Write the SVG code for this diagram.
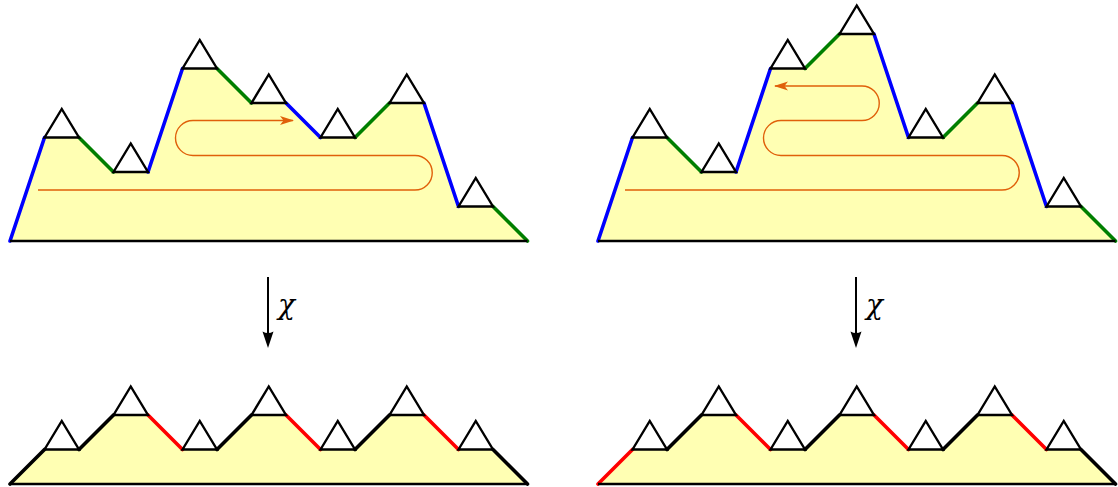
<svg xmlns="http://www.w3.org/2000/svg" width="1118" height="487" viewBox="0 0 1118 487">
<style>
.fill{fill:#ffffb3;stroke:none}
.e{stroke-width:3.6;stroke-linecap:round;fill:none}
.b{stroke:#0000ff}
.g{stroke:#007f00}
.r{stroke:#ff0000}
.k{stroke:#000}
.base{stroke:#000;stroke-width:2.6;fill:none}
.tri{fill:#fff;stroke:#000;stroke-width:2.4;stroke-linejoin:miter}
.or{fill:none;stroke:#e0600a;stroke-width:1.4}
.arr{stroke:#000;stroke-width:2}
.lbl{font-family:"DejaVu Serif","Liberation Serif",serif;font-style:italic;font-size:28px;fill:#000}
</style>
<defs>
<path id="t" d="M0,0 L17.25,-28.5 L34.5,0 Z"/>
<marker id="oh" viewBox="0 0 14 10" refX="13" refY="5" markerWidth="14" markerHeight="10" markerUnits="userSpaceOnUse" orient="auto">
<path d="M0,0.5 L14,5 L0,9.5 L3.5,5 Z" fill="#e0600a"/>
</marker>
</defs>

<g id="top-left">
<polygon class="fill" points="10,241 44.5,137.5 79,137.5 113.5,172 148,172 182.5,68.5 217,68.5 251.5,103 286,103 320.5,137.5 355,137.5 389.5,103 424,103 458.5,206.5 493,206.5 527.5,241"/>
<path class="e b" d="M10,241 L44.5,137.5 M148,172 L182.5,68.5 M286,103 L320.5,137.5 M424,103 L458.5,206.5"/>
<path class="e g" d="M79,137.5 L113.5,172 M217,68.5 L251.5,103 M355,137.5 L389.5,103 M493,206.5 L527.5,241"/>
<use href="#t" class="tri" x="44.5" y="137.5"/>
<use href="#t" class="tri" x="113.5" y="172"/>
<use href="#t" class="tri" x="182.5" y="68.5"/>
<use href="#t" class="tri" x="251.5" y="103"/>
<use href="#t" class="tri" x="320.5" y="137.5"/>
<use href="#t" class="tri" x="389.5" y="103"/>
<use href="#t" class="tri" x="458.5" y="206.5"/>
<line class="base" x1="10" y1="241" x2="527.5" y2="241"/>
<path class="or" marker-end="url(#oh)" d="M38,190 H415 A17.25,17.25 0 0 0 415,155.5 H193 A17.5,17.5 0 0 1 193,120.5 H293"/>
</g>

<g id="top-right">
<polygon class="fill" points="598,241 632.5,137.5 667,137.5 701.5,172 736,172 770.5,68.5 805,68.5 839.5,34 874,34 908.5,137.5 943,137.5 977.5,103 1012,103 1046.5,206.5 1081,206.5 1115.5,241"/>
<path class="e b" d="M598,241 L632.5,137.5 M736,172 L770.5,68.5 M874,34 L908.5,137.5 M1012,103 L1046.5,206.5"/>
<path class="e g" d="M667,137.5 L701.5,172 M805,68.5 L839.5,34 M943,137.5 L977.5,103 M1081,206.5 L1115.5,241"/>
<use href="#t" class="tri" x="632.5" y="137.5"/>
<use href="#t" class="tri" x="701.5" y="172"/>
<use href="#t" class="tri" x="770.5" y="68.5"/>
<use href="#t" class="tri" x="839.5" y="34"/>
<use href="#t" class="tri" x="908.5" y="137.5"/>
<use href="#t" class="tri" x="977.5" y="103"/>
<use href="#t" class="tri" x="1046.5" y="206.5"/>
<line class="base" x1="598" y1="241" x2="1115.5" y2="241"/>
<path class="or" marker-end="url(#oh)" d="M625,190 H1002 A17.25,17.25 0 0 0 1002,155.5 H781 A17.5,17.5 0 0 1 781,120.5 H862 A17.25,17.25 0 0 0 862,86 H775"/>
</g>

<g id="bottom-left">
<polygon class="fill" points="10,484 44.5,449.5 79,449.5 113.5,415 148,415 182.5,449.5 217,449.5 251.5,415 286,415 320.5,449.5 355,449.5 389.5,415 424,415 458.5,449.5 493,449.5 527.5,484"/>
<path class="e k" d="M10,484 L44.5,449.5 M79,449.5 L113.5,415 M217,449.5 L251.5,415 M355,449.5 L389.5,415 M493,449.5 L527.5,484"/>
<path class="e r" d="M148,415 L182.5,449.5 M286,415 L320.5,449.5 M424,415 L458.5,449.5"/>
<use href="#t" class="tri" x="44.5" y="449.5"/>
<use href="#t" class="tri" x="113.5" y="415"/>
<use href="#t" class="tri" x="182.5" y="449.5"/>
<use href="#t" class="tri" x="251.5" y="415"/>
<use href="#t" class="tri" x="320.5" y="449.5"/>
<use href="#t" class="tri" x="389.5" y="415"/>
<use href="#t" class="tri" x="458.5" y="449.5"/>
<line class="base" x1="10" y1="484" x2="527.5" y2="484"/>
</g>

<g id="bottom-right">
<polygon class="fill" points="598,484 632.5,449.5 667,449.5 701.5,415 736,415 770.5,449.5 805,449.5 839.5,415 874,415 908.5,449.5 943,449.5 977.5,415 1012,415 1046.5,449.5 1081,449.5 1115.5,484"/>
<path class="e k" d="M667,449.5 L701.5,415 M805,449.5 L839.5,415 M943,449.5 L977.5,415 M1081,449.5 L1115.5,484"/>
<path class="e r" d="M598,484 L632.5,449.5 M736,415 L770.5,449.5 M874,415 L908.5,449.5 M1012,415 L1046.5,449.5"/>
<use href="#t" class="tri" x="632.5" y="449.5"/>
<use href="#t" class="tri" x="701.5" y="415"/>
<use href="#t" class="tri" x="770.5" y="449.5"/>
<use href="#t" class="tri" x="839.5" y="415"/>
<use href="#t" class="tri" x="908.5" y="449.5"/>
<use href="#t" class="tri" x="977.5" y="415"/>
<use href="#t" class="tri" x="1046.5" y="449.5"/>
<line class="base" x1="598" y1="484" x2="1115.5" y2="484"/>
</g>

<g id="connectors">
<line class="arr" x1="268" y1="277" x2="268" y2="336"/>
<path d="M268,348 L262.5,331.5 Q268,334.5 273.5,331.5 Z" fill="#000"/>
<text class="lbl" x="278" y="314">χ</text>
<line class="arr" x1="856" y1="277" x2="856" y2="336"/>
<path d="M856,348 L850.5,331.5 Q856,334.5 861.5,331.5 Z" fill="#000"/>
<text class="lbl" x="866" y="314">χ</text>
</g>
</svg>
